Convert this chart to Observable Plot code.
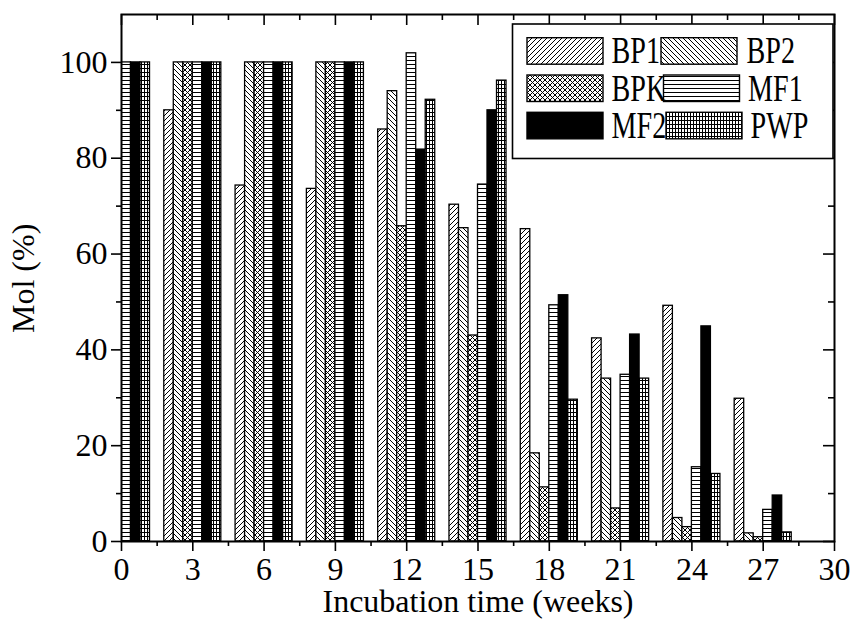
<!DOCTYPE html>
<html><head><meta charset="utf-8">
<script src="https://cdn.jsdelivr.net/npm/d3@7"></script>
<script src="https://cdn.jsdelivr.net/npm/@observablehq/plot@0.6"></script>
<style>html,body{margin:0;padding:0;background:#fff;} #chart svg{display:block;}</style>
</head><body><div id="chart"></div>
<script>
// ---- data ----
const weeks  = [0, 3, 6, 9, 12, 15, 18, 21, 24, 27];
const series = ["BP1", "BP2", "BPK", "MF1", "MF2", "PWP"];
const BP1 = [100, 90, 74.3, 73.6, 86.0, 70.3, 65.2, 42.4, 49.2, 29.8];
const BP2 = [100, 100, 100, 100, 94.0, 65.4, 18.4, 34.0, 4.9, 1.7];
const BPK = [100, 100, 100, 100, 65.8, 43.0, 11.3, 6.9, 3.0, 0.9];
const MF1 = [100, 100, 100, 100, 101.9, 74.5, 49.3, 34.8, 15.5, 6.6];
const MF2 = [100, 100, 100, 100, 81.8, 90.0, 51.4, 43.2, 44.9, 9.6];
const PWP = [100, 100, 100, 100, 92.2, 96.2, 29.6, 34.0, 14.1, 1.9];
const xMajor = [0, 3, 6, 9, 12, 15, 18, 21, 24, 27, 30];
const xMinor = [1.5, 4.5, 7.5, 10.5, 13.5, 16.5, 19.5, 22.5, 25.5, 28.5];
const yMajor = [0, 20, 40, 60, 80, 100];
const yMinor = [10, 30, 50, 70, 90];
const xTitle = "Incubation time (weeks)";
const yTitle = "Mol (%)";

// ---- table built from the arrays ----
const valuesBySeries = {BP1, BP2, BPK, MF1, MF2, PWP};
const rows = weeks.flatMap((w, j) => series.map((s, i) => ({week: w, series: s, idx: i, value: valuesBySeries[s][j]})));
const fillFor = {BP1: "url(#p-bp1)", BP2: "url(#p-bp2)", BPK: "url(#p-bpk)", MF1: "url(#p-mf1)", MF2: "black", PWP: "url(#p-pwp)"};
const barW = 0.4; // bar width in weeks (6 bars centred on each week)

const W = 855, H = 619, mL = 121, mR = 21, mT = 14, mB = 78;
const innerW = W - mL - mR, innerH = H - mT - mB;

const plot = Plot.plot({
  width: W, height: H,
  marginLeft: mL, marginRight: mR, marginTop: mT, marginBottom: mB,
  x: {domain: [0, 30]},
  y: {domain: [0, 110]},
  color: {type: "identity"},
  style: {fontFamily: "'Liberation Serif', serif", fontSize: "32px", color: "black", background: "white"},
  marks: [
    Plot.rect(rows, {
      x1: d => d.week + (d.idx - 3) * barW,
      x2: d => d.week + (d.idx - 2) * barW,
      y1: 0, y2: "value",
      fill: d => fillFor[d.series],
      stroke: "black", strokeWidth: 1.3, clip: true
    }),
    Plot.axisX(xMajor, {tickSize: 10, tickPadding: 6, strokeWidth: 1.6, label: null, tickFormat: d => d}),
    Plot.axisX(xMinor, {tickSize: 5, strokeWidth: 1.6, label: null, tickFormat: () => ""}),
    Plot.axisY(yMajor, {tickSize: 10, tickPadding: 4, strokeWidth: 1.6, label: null, tickFormat: d => d}),
    Plot.axisY(yMinor, {tickSize: 5, strokeWidth: 1.6, label: null, tickFormat: () => ""}),
    Plot.tickX(xMajor, {x: d => d, insetBottom: innerH - 11, stroke: "black", strokeWidth: 1.6}),
    Plot.tickX(xMinor, {x: d => d, insetBottom: innerH - 6, stroke: "black", strokeWidth: 1.6}),
    Plot.tickY(yMajor, {y: d => d, insetLeft: innerW - 11, stroke: "black", strokeWidth: 1.6}),
    Plot.tickY(yMinor, {y: d => d, insetLeft: innerW - 6, stroke: "black", strokeWidth: 1.6}),
    Plot.frame({stroke: "black", strokeWidth: 2}),
    Plot.text([xTitle], {frameAnchor: "bottom", lineAnchor: "middle", dy: 60, fontSize: 32, fill: "black"}),
    Plot.text([yTitle], {frameAnchor: "left", lineAnchor: "middle", rotate: -90, dx: -98, dy: 55, fontSize: 32, fill: "black"})
  ]
});

// ---- hatch patterns ----
const svg = d3.select(plot);
const defs = svg.insert("defs", ":first-child");
function pattern(id, w, h, d, crisp) {
  const p = defs.append("pattern").attr("id", id).attr("patternUnits", "userSpaceOnUse")
    .attr("width", w).attr("height", h);
  p.append("rect").attr("width", w).attr("height", h).attr("fill", "white");
  p.append("path").attr("d", d).attr("stroke", "black").attr("stroke-width", 1).attr("fill", "none")
    .attr("shape-rendering", crisp ? "crispEdges" : "auto");
}
const s = 5;
pattern("p-bp1", s, s, `M0,${s} L${s},0 M-1,1 L1,-1 M${s-1},${s+1} L${s+1},${s-1}`);
pattern("p-bp2", s, s, `M0,0 L${s},${s} M-1,${s-1} L1,${s+1} M${s-1},-1 L${s+1},1`);
pattern("p-bpk", s, s, `M0,${s} L${s},0 M-1,1 L1,-1 M${s-1},${s+1} L${s+1},${s-1} M0,0 L${s},${s} M-1,${s-1} L1,${s+1} M${s-1},-1 L${s+1},1`);
pattern("p-mf1", 4, 4, "M0,0.5 H4", true);
pattern("p-pwp", 3, 4, "M0,0.5 H3 M0.5,0 V4", true);

// ---- legend (inside the plot frame, top right) ----
const lg = svg.append("g").attr("class", "legend").attr("text-anchor", "start");
lg.append("rect").attr("x", 512.5).attr("y", 24).attr("width", 320.5).attr("height", 134.5)
  .attr("fill", "white").attr("stroke", "black").attr("stroke-width", 1.6);
const swX = [[527, 661], [527, 663.5], [527, 666]];
const txX = [[611.5, 746.5], [611.5, 748], [611.5, 750.5]];
const rowY = [37.7, 75, 112.3];
const base = [63.3, 100.7, 138];
series.forEach((name, k) => {
  const r = Math.floor(k / 2), c = k % 2;
  lg.append("rect").attr("x", swX[r][c]).attr("y", rowY[r]).attr("width", 76).attr("height", 26.5)
    .attr("fill", fillFor[name]).attr("stroke", "black").attr("stroke-width", 1.4);
});
series.forEach((name, k) => {
  const r = Math.floor(k / 2), c = k % 2;
  lg.append("text").attr("transform", `translate(${txX[r][c]},${base[r]}) scale(0.76,1)`)
    .attr("text-anchor", "start")
    .attr("font-family", "'Liberation Serif', serif").attr("font-size", 37).attr("fill", "black")
    .text(name);
});

document.getElementById("chart").appendChild(plot);
</script></body></html>
